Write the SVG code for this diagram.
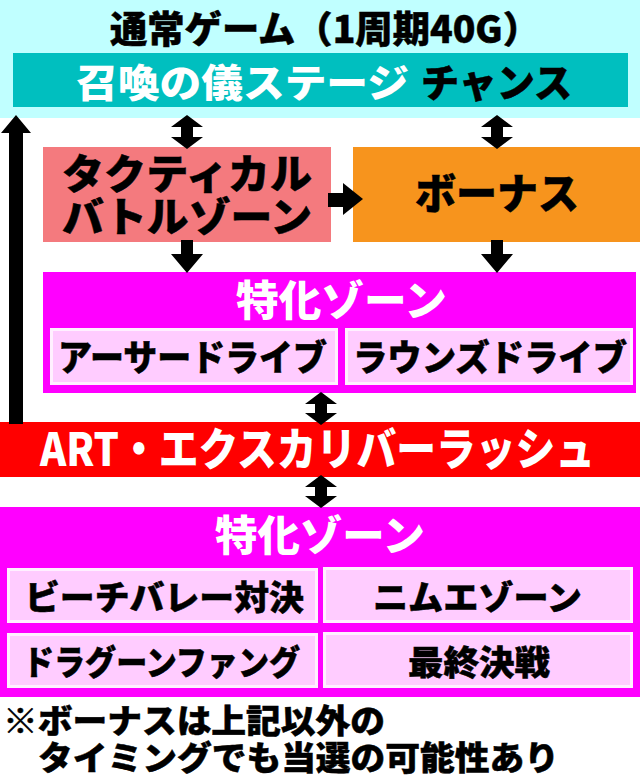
<svg xmlns="http://www.w3.org/2000/svg" width="640" height="781" viewBox="0 0 640 781">
<style>
text{font-family:"Noto Sans CJK JP","Noto Sans CJK SC",sans-serif;font-weight:900}
.w{fill:#fff}
.k{fill:#000;stroke:#000;stroke-width:0.5}
.sub{fill:#FFCCFF;stroke:#FFF0FF;stroke-width:3}
.arr{fill:#000}
</style>
<rect x="0" y="0" width="640" height="781" fill="#fff"/>
<g id="normal-game">
<rect x="0" y="0" width="640" height="118" fill="#C0FFFF"/>
<text class="k" x="110" y="43" font-size="37" textLength="430" lengthAdjust="spacingAndGlyphs">通常ゲーム（1周期40G）</text>
</g>
<g id="stage-chance">
<rect x="13" y="53" width="615" height="54" fill="#00BFBF"/>
<text class="w" x="76" y="97" font-size="39" textLength="333" lengthAdjust="spacingAndGlyphs">召喚の儀ステージ</text>
<text class="k" x="421" y="97" font-size="39" textLength="151" lengthAdjust="spacingAndGlyphs">チャンス</text>
</g>
<g id="tactical">
<rect x="43" y="147" width="288" height="95" fill="#F47A7E"/>
<text class="k" x="62" y="189" font-size="41" textLength="250" lengthAdjust="spacingAndGlyphs">タクティカル</text>
<text class="k" x="62" y="232" font-size="41" textLength="250" lengthAdjust="spacingAndGlyphs">バトルゾーン</text>
</g>
<g id="bonus">
<rect x="353" y="147" width="287" height="95" fill="#F7941D"/>
<text class="k" x="415" y="209" font-size="42" textLength="164" lengthAdjust="spacingAndGlyphs">ボーナス</text>
</g>
<g id="zone1">
<rect x="43" y="272" width="593" height="121" fill="#FF00FF"/>
<text class="w" x="236" y="316" font-size="42" textLength="211" lengthAdjust="spacingAndGlyphs">特化ゾーン</text>
<rect class="sub" x="51.5" y="329.5" width="285" height="54"/>
<text class="k" x="58" y="371" font-size="36" textLength="269" lengthAdjust="spacingAndGlyphs">アーサードライブ</text>
<rect class="sub" x="346.5" y="329.5" width="285" height="54"/>
<text class="k" x="353" y="371" font-size="36" textLength="274" lengthAdjust="spacingAndGlyphs">ラウンズドライブ</text>
</g>
<g id="art">
<rect x="0" y="422" width="640" height="55" fill="#FF0000"/>
<text class="w" x="40" y="466" font-size="45" textLength="555" lengthAdjust="spacingAndGlyphs">ART・エクスカリバーラッシュ</text>
</g>
<g id="zone2">
<rect x="0" y="507" width="640" height="190" fill="#FF00FF"/>
<text class="w" x="215" y="551" font-size="42" textLength="210" lengthAdjust="spacingAndGlyphs">特化ゾーン</text>
<rect class="sub" x="8.5" y="569.5" width="308" height="52"/>
<text class="k" x="25" y="610" font-size="34" textLength="279" lengthAdjust="spacingAndGlyphs">ビーチバレー対決</text>
<rect class="sub" x="324.5" y="568.5" width="307" height="53"/>
<text class="k" x="373" y="610" font-size="34" textLength="209" lengthAdjust="spacingAndGlyphs">ニムエゾーン</text>
<rect class="sub" x="8.5" y="634.5" width="308" height="52"/>
<text class="k" x="23" y="675" font-size="34" textLength="277" lengthAdjust="spacingAndGlyphs">ドラグーンファング</text>
<rect class="sub" x="324.5" y="633.5" width="307" height="53"/>
<text class="k" x="408" y="675" font-size="34" textLength="142" lengthAdjust="spacingAndGlyphs">最終決戦</text>
</g>
<g id="note">
<text class="k" x="3" y="733" font-size="33" textLength="382" lengthAdjust="spacingAndGlyphs">※ボーナスは上記以外の</text>
<text class="k" x="38" y="770" font-size="33" textLength="521" lengthAdjust="spacingAndGlyphs">タイミングでも当選の可能性あり</text>
</g>
<g id="connectors">
<path class="arr" d="M187,115 L203,127 L193,127 L193,137 L203,137 L187,149 L171,137 L181,137 L181,127 L171,127 Z"/>
<path class="arr" d="M497,115 L513,127 L503,127 L503,137 L513,137 L497,149 L481,137 L491,137 L491,127 L481,127 Z"/>
<path class="arr" d="M328,193 L343,193 L343,183 L363,199 L343,215 L343,207 L328,207 Z"/>
<path class="arr" d="M181,240 L193,240 L193,254 L203,254 L187,273 L171,254 L181,254 Z"/>
<path class="arr" d="M491,240 L503,240 L503,254 L513,254 L497,273 L481,254 L491,254 Z"/>
<path class="arr" d="M321,392 L337,404 L327,404 L327,413 L337,413 L321,425 L305,413 L315,413 L315,404 L305,404 Z"/>
<path class="arr" d="M321,475 L337,487 L327,487 L327,496 L337,496 L321,508 L305,496 L315,496 L315,487 L305,487 Z"/>
<path class="arr" d="M16,115 L31,133 L23,133 L23,424 L9,424 L9,133 L1,133 Z"/>
</g>
</svg>
